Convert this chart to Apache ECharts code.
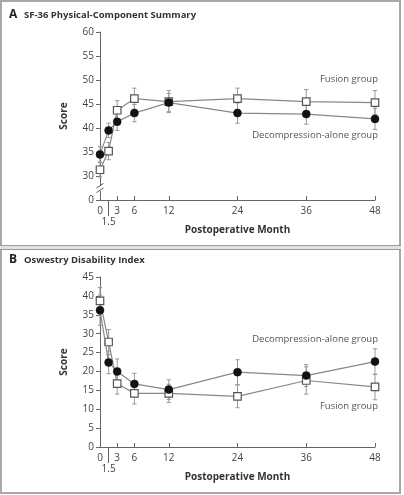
<!DOCTYPE html>
<html><head><meta charset="utf-8">
<script src="https://cdn.jsdelivr.net/npm/echarts@6/dist/echarts.min.js"></script>
<style>
html,body{margin:0;padding:0;background:#fff;}
#wrap{position:relative;width:404px;height:495px;}
#chart{position:absolute;left:0;top:0;width:404px;height:495px;}
#frame{position:absolute;left:0;top:0;width:401px;height:494px;box-sizing:border-box;border:2px solid #a8a8a8;pointer-events:none;}
#sep{position:absolute;left:0;top:245px;width:401px;height:5px;box-sizing:border-box;border-top:1px solid #999;border-bottom:1px solid #999;background:#e2e2e2;pointer-events:none;}
</style></head>
<body>
<div id="wrap"><div id="chart"></div><div id="frame"></div><div id="sep"></div></div>
<script>
// ---- data ----
const months = [0, 1.5, 3, 6, 12, 24, 36, 48];
const xTickValues = [0, 3, 6, 12, 24, 36, 48];
const xExtraTick = [1.5];

const sfDecomp     = [34.5, 39.5, 41.3, 43.1, 45.3, 43.1, 42.9, 41.9];
const sfDecompErr  = [1.6, 1.5, 1.8, 1.8, 1.9, 2.1, 2.1, 2.2];
const sfFusion     = [31.3, 35.2, 43.7, 46.1, 45.5, 46.1, 45.5, 45.3];
const sfFusionErr  = [1.5, 1.8, 2.0, 2.2, 2.3, 2.2, 2.5, 2.5];

const odiDecomp    = [36.2, 22.4, 20.0, 16.7, 15.2, 19.8, 18.9, 22.6];
const odiDecompErr = [4.0, 3.0, 3.3, 2.8, 2.6, 3.3, 2.9, 3.4];
const odiFusion    = [38.7, 27.8, 16.8, 14.2, 14.2, 13.4, 17.6, 15.9];
const odiFusionErr = [3.5, 3.3, 2.8, 2.8, 2.4, 3.0, 3.6, 3.4];

const sfAxisBreakValue = 25; // displayed as "0" (axis break)
const sfTicks = {min: 25, max: 60, interval: 5};
const odiTicks = {min: 0, max: 45, interval: 5};

// ---- helpers ----
const FONT = '"Open Sans", "DejaVu Sans", sans-serif';
const TXT = '#444';
const pts = (vals) => months.map((m, i) => [m, vals[i]]);
const errs = (vals, e) => months.map((m, i) => [m, vals[i] - e[i], vals[i] + e[i]]);

function errRender(params, api) {
  const x = api.value(0);
  const lo = api.coord([x, api.value(1)]);
  const hi = api.coord([x, api.value(2)]);
  const cw = 2.2;
  const st = {stroke: '#999', lineWidth: 1};
  return {type: 'group', children: [
    {type: 'line', shape: {x1: lo[0], y1: lo[1], x2: hi[0], y2: hi[1]}, style: st},
    {type: 'line', shape: {x1: lo[0]-cw, y1: lo[1], x2: lo[0]+cw, y2: lo[1]}, style: st},
    {type: 'line', shape: {x1: hi[0]-cw, y1: hi[1], x2: hi[0]+cw, y2: hi[1]}, style: st}
  ]};
}
function errSeries(data, xi, yi) {
  return {type: 'custom', xAxisIndex: xi, yAxisIndex: yi, data: data,
    renderItem: errRender, encode: {x: 0, y: [1, 2]}, silent: true, z: 1};
}
function lineSeries(data, xi, yi, filled) {
  return {type: 'line', xAxisIndex: xi, yAxisIndex: yi, data: data,
    symbol: filled ? 'circle' : 'rect', symbolSize: filled ? 8 : 7.5,
    itemStyle: filled ? {color: '#111', borderColor: '#111', borderWidth: 0.5}
                      : {color: '#fff', borderColor: '#555', borderWidth: 1.2},
    lineStyle: {color: '#888', width: 1.2}, z: filled ? 4 : 3, silent: true, animation: false};
}
function mainX(gi, name) {
  return {type: 'value', gridIndex: gi, min: 0, max: 48,
    name: name, nameLocation: 'middle', nameGap: 25,
    nameTextStyle: {fontFamily: FONT, fontSize: 10, fontWeight: 'bold', color: '#333'},
    axisLine: {lineStyle: {color: '#666', width: 1}},
    axisTick: {show: true, inside: true, length: 4, customValues: xTickValues, lineStyle: {color: '#666'}},
    axisLabel: {customValues: xTickValues, fontFamily: FONT, fontSize: 10, color: TXT, margin: 6},
    splitLine: {show: false}};
}
function extraX(gi) {
  return {type: 'value', gridIndex: gi, min: 0, max: 48, position: 'bottom',
    axisLine: {show: false},
    axisTick: {show: true, length: 16, customValues: xExtraTick, lineStyle: {color: '#666'}},
    axisLabel: {customValues: xExtraTick, fontFamily: FONT, fontSize: 10, color: TXT, margin: 17,
      formatter: (v) => String(v)},
    splitLine: {show: false}};
}
function yAx(gi, t, fmt) {
  return {type: 'value', gridIndex: gi, min: t.min, max: t.max, interval: t.interval,
    name: 'Score', nameLocation: 'middle', nameGap: 31,
    nameTextStyle: {fontFamily: FONT, fontSize: 10, fontWeight: 'bold', color: '#333'},
    axisLine: {show: true, lineStyle: {color: '#666', width: 1}},
    axisTick: {show: true, length: 4, lineStyle: {color: '#666'}},
    axisLabel: {fontFamily: FONT, fontSize: 10, color: TXT, margin: 6, formatter: fmt},
    splitLine: {show: false}};
}

const chart = echarts.init(document.getElementById('chart'), null, {renderer: 'canvas'});
const option = {
  animation: false,
  backgroundColor: '#fff',
  grid: [
    {left: 100, right: 29, top: 32, bottom: 295, containLabel: false},
    {left: 100, right: 29, top: 277, bottom: 48, containLabel: false}
  ],
  xAxis: [mainX(0, 'Postoperative Month'), extraX(0), mainX(1, 'Postoperative Month'), extraX(1)],
  yAxis: [
    yAx(0, sfTicks, (v) => v === sfAxisBreakValue ? '0' : String(v)),
    yAx(1, odiTicks, (v) => String(v))
  ],
  series: [
    errSeries(errs(sfFusion, sfFusionErr), 0, 0),
    errSeries(errs(sfDecomp, sfDecompErr), 0, 0),
    lineSeries(pts(sfFusion), 0, 0, false),
    lineSeries(pts(sfDecomp), 0, 0, true),
    // axis break mark on panel A's y axis
    {type: 'custom', xAxisIndex: 0, yAxisIndex: 0, data: [[0, 27.4]], silent: true, z: 10,
      renderItem: (params, api) => {
        const p = api.coord([api.value(0), api.value(1)]);
        const st = {stroke: '#555', lineWidth: 1};
        return {type: 'group', children: [
          {type: 'rect', shape: {x: p[0]-3, y: p[1]-2.5, width: 6, height: 5}, style: {fill: '#fff'}},
          {type: 'line', shape: {x1: p[0]-3.5, y1: p[1]-0.5, x2: p[0]+3.5, y2: p[1]-5}, style: st},
          {type: 'line', shape: {x1: p[0]-3.5, y1: p[1]+4, x2: p[0]+3.5, y2: p[1]-0.5}, style: st}
        ]};
      }},
    errSeries(errs(odiFusion, odiFusionErr), 2, 1),
    errSeries(errs(odiDecomp, odiDecompErr), 2, 1),
    lineSeries(pts(odiFusion), 2, 1, false),
    lineSeries(pts(odiDecomp), 2, 1, true)
  ],
  graphic: [
    {type: 'text', left: 9, top: 9, style: {text: 'A', font: 'bold 12px ' + FONT, fill: '#222'}},
    {type: 'text', left: 24, top: 10, style: {text: 'SF-36 Physical-Component Summary', font: 'bold 9.5px ' + FONT, fill: '#333'}},
    {type: 'text', left: 9, top: 254, style: {text: 'B', font: 'bold 12px ' + FONT, fill: '#222'}},
    {type: 'text', left: 24, top: 255, style: {text: 'Oswestry Disability Index', font: 'bold 9.5px ' + FONT, fill: '#333'}},
    {type: 'text', right: 26, top: 74, style: {text: 'Fusion group', font: '9.5px ' + FONT, fill: '#555', align: 'right'}},
    {type: 'text', right: 26, top: 130, style: {text: 'Decompression-alone group', font: '9.5px ' + FONT, fill: '#555', align: 'right'}},
    {type: 'text', right: 26, top: 334, style: {text: 'Decompression-alone group', font: '9.5px ' + FONT, fill: '#555', align: 'right'}},
    {type: 'text', right: 26, top: 401, style: {text: 'Fusion group', font: '9.5px ' + FONT, fill: '#555', align: 'right'}}
  ]
};
chart.setOption(option);
</script>
</body></html>
